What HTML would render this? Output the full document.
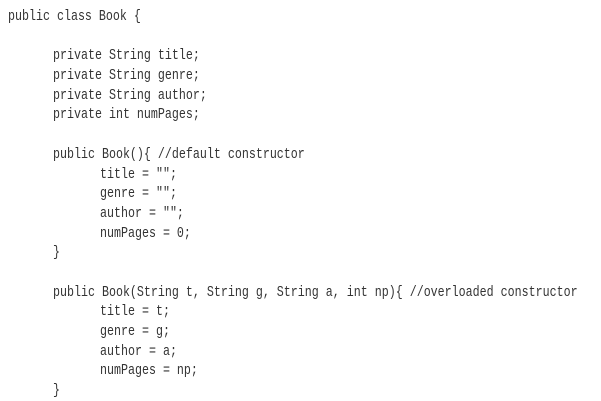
<!DOCTYPE html>
<html><head><style>
body{margin:0;background:#fff;width:601px;height:401px;overflow:hidden;position:relative}
div{position:absolute;white-space:pre;font-family:"Liberation Mono",monospace;font-size:15px;line-height:20px;color:#333;transform:scaleX(0.777);transform-origin:0 50%}
</style></head><body>
<div style="left:8px;top:7px">public class Book {</div>
<div style="left:53px;top:46px">private String title;</div>
<div style="left:53px;top:66px">private String genre;</div>
<div style="left:53px;top:86px">private String author;</div>
<div style="left:53px;top:105px">private int numPages;</div>
<div style="left:53px;top:145px">public Book(){ //default constructor</div>
<div style="left:100px;top:165px">title = "";</div>
<div style="left:100px;top:184px">genre = "";</div>
<div style="left:100px;top:204px">author = "";</div>
<div style="left:100px;top:224px">numPages = 0;</div>
<div style="left:53px;top:243px">}</div>
<div style="left:53px;top:283px">public Book(String t, String g, String a, int np){ //overloaded constructor</div>
<div style="left:100px;top:302px">title = t;</div>
<div style="left:100px;top:322px">genre = g;</div>
<div style="left:100px;top:342px">author = a;</div>
<div style="left:100px;top:361px">numPages = np;</div>
<div style="left:53px;top:381px">}</div>
</body></html>
